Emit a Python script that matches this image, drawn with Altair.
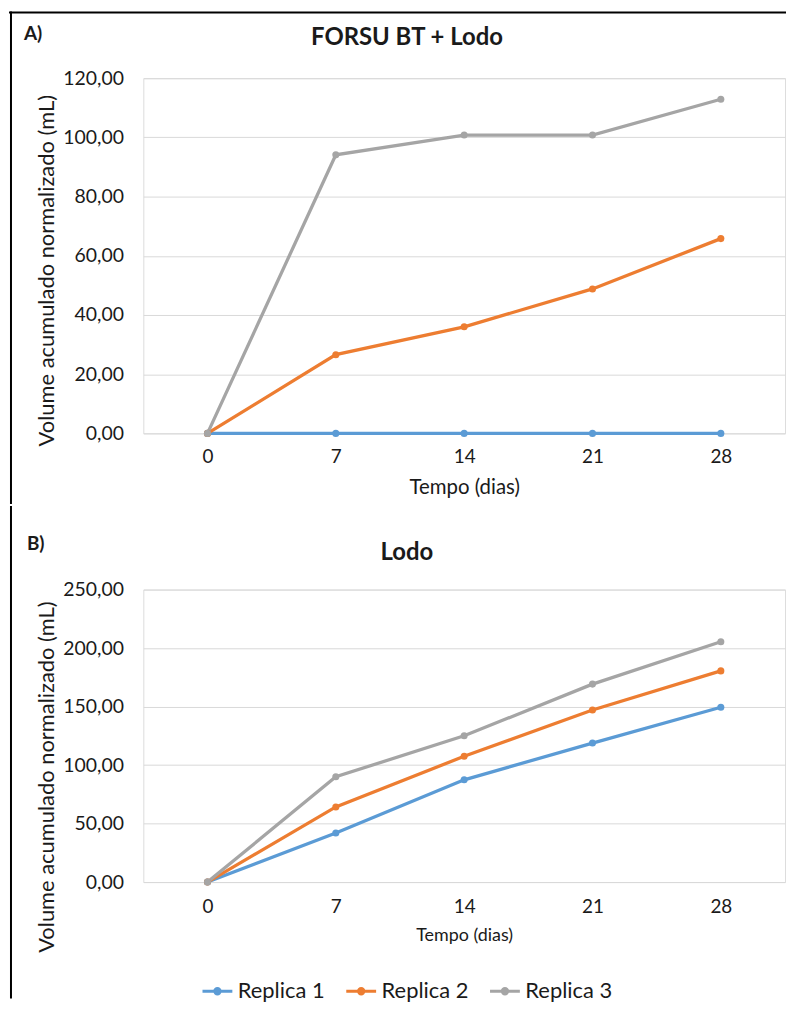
import altair as alt
import pandas as pd

days = [0, 7, 14, 21, 28]
series_names = ["Replica 1", "Replica 2", "Replica 3"]
colors = ["#5B9BD5", "#ED7D31", "#A5A5A5"]

a_replica1 = [0.0, 0.0, 0.0, 0.0, 0.0]
a_replica2 = [0.0, 26.6, 36.0, 48.8, 65.8]
a_replica3 = [0.0, 94.1, 100.8, 100.8, 112.9]

b_replica1 = [0.0, 41.9, 87.4, 118.8, 149.4]
b_replica2 = [0.0, 64.2, 107.5, 147.1, 180.5]
b_replica3 = [0.0, 90.0, 125.0, 169.2, 205.4]

a_ticks = [0, 20, 40, 60, 80, 100, 120]
b_ticks = [0, 50, 100, 150, 200, 250]

FONT = "Lato"
TXT = "#1a1a1a"
W = 645
LEG_PATH = ("M-1,0L1,0M-0.18,0A0.18,0.18,0,1,1,0.18,0"
            "A0.18,0.18,0,1,1,-0.18,0Z")


def frame(vals_list):
    rows = []
    for name, vals in zip(series_names, vals_list):
        for d, v in zip(days, vals):
            rows.append({"dia": d, "volume": v, "serie": name})
    return pd.DataFrame(rows)


one = pd.DataFrame({"k": [0]})


def panel(df, ticks, ymax, height, title, title_y, tag, tag_x, tag_y,
          xtitle_size, xlabel_pad, xtitle_pad, ytitle_y, b_top, b_bottom,
          draw_top):
    x = alt.X("dia:Q",
              scale=alt.Scale(domain=[-3.5, 31.5], nice=False, zero=False),
              axis=alt.Axis(values=days, grid=False, domain=False, ticks=False,
                            tickSize=0, labelFont=FONT, labelFontSize=19,
                            labelColor=TXT, labelPadding=xlabel_pad,
                            title="Tempo (dias)", titleFont=FONT,
                            titleFontSize=xtitle_size, titleFontWeight="normal",
                            titleColor=TXT, titlePadding=xtitle_pad))
    y = alt.Y("volume:Q",
              scale=alt.Scale(domain=[0, ymax], nice=False),
              axis=alt.Axis(values=ticks, grid=True, gridColor="#D9D9D9",
                            gridWidth=1, domain=False, ticks=False, tickSize=0,
                            labelExpr="replace(format(datum.value, '.2f'), '.', ',')",
                            labelFont=FONT, labelFontSize=19.5, labelColor=TXT,
                            labelPadding=20,
                            title="Volume acumulado normalizado (mL)",
                            titleFont=FONT, titleFontSize=22,
                            titleFontWeight="normal", titleColor=TXT,
                            titleX=-97, titleY=ytitle_y, titleAlign="center",
                            titleBaseline="middle", titleAngle=270))
    color = alt.Color("serie:N",
                      scale=alt.Scale(domain=series_names, range=colors),
                      legend=alt.Legend(
                          title=None, orient="none", legendX=58, legendY=901,
                          direction="horizontal", symbolType=LEG_PATH,
                          symbolSize=900, symbolStrokeWidth=3,
                          labelFont=FONT, labelFontSize=22, labelColor=TXT,
                          labelOffset=4, columnPadding=14.5))
    base = alt.Chart(df)
    lines = base.mark_line(strokeWidth=3.3).encode(x=x, y=y, color=color)
    points = base.mark_point(filled=True, size=50, opacity=1).encode(
        x=x, y=y, color=color)
    left_border = alt.Chart(one).mark_rule(
        color="#000000", strokeWidth=2, strokeCap="square").encode(
        x=alt.value(-133), y=alt.value(b_top), y2=alt.value(b_bottom))
    layers = [left_border]
    if draw_top:
        top_border = alt.Chart(one).mark_rule(
            color="#000000", strokeWidth=2, strokeCap="square").encode(
            x=alt.value(-134), x2=alt.value(W), y=alt.value(b_top))
        layers.append(top_border)
    tag_text = alt.Chart(one).mark_text(
        text=tag, font=FONT, fontSize=19, fontWeight="bold", color=TXT,
        align="left", baseline="middle").encode(
        x=alt.value(tag_x), y=alt.value(tag_y))
    title_text = alt.Chart(one).mark_text(
        text=title, font=FONT, fontSize=24, fontWeight="bold", color=TXT,
        align="center", baseline="middle").encode(
        x=alt.value(265), y=alt.value(title_y))
    layers += [lines, points, tag_text, title_text]
    return alt.layer(*layers).properties(width=W, height=height)


panel_a = panel(frame([a_replica1, a_replica2, a_replica3]), a_ticks, 120, 357,
                "FORSU BT + Lodo", -40, "A)", -120, -44, 20.5, 14, 11, 193,
                -66, 357 + 70, True)
panel_b = panel(frame([b_replica1, b_replica2, b_replica3]), b_ticks, 250, 294,
                "Lodo", -37, "B)", -117, -46, 18, 16, 10, 188,
                -83, 410, False)

chart = alt.vconcat(panel_a, panel_b, spacing=0).properties(
    padding={"top": 0, "left": 0, "right": 0, "bottom": 0}
).configure_view(stroke=None).configure(background="#ffffff")

chart.save("out.html", embed_options={"renderer": "svg", "actions": False})
